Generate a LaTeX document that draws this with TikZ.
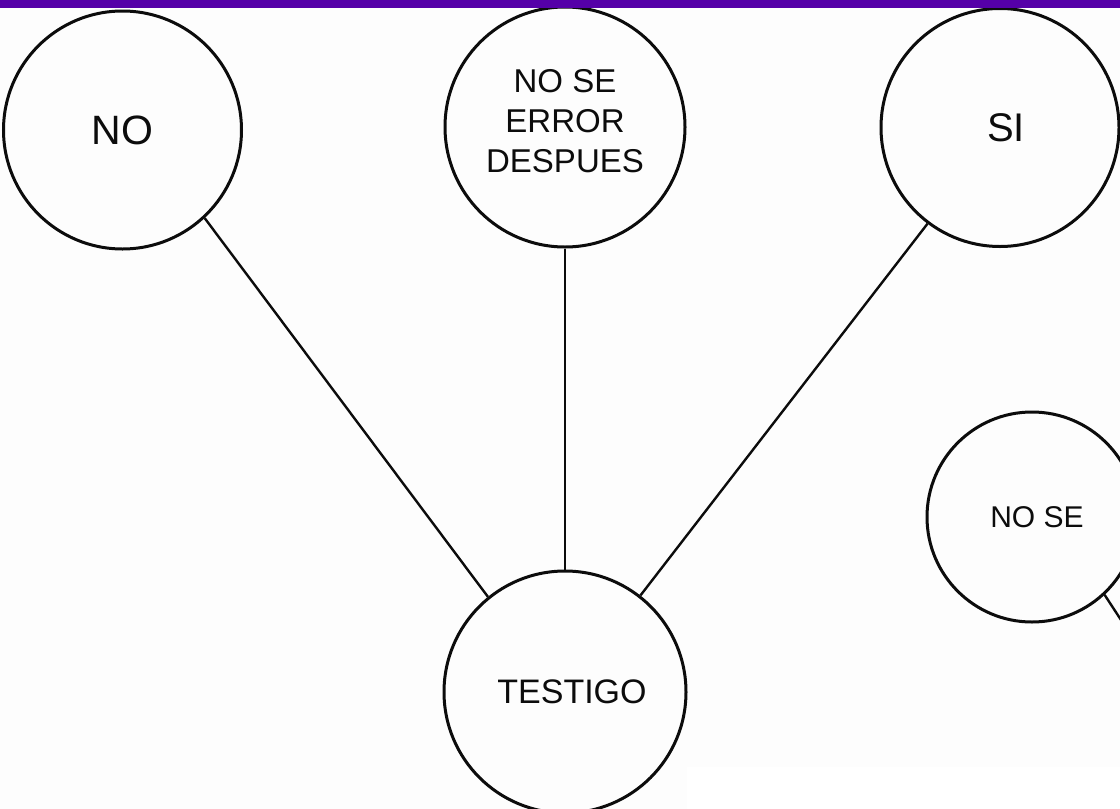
\documentclass[tikz,border=0pt]{standalone}
\usepackage{fontspec}
\setmainfont{Liberation Sans}
\definecolor{barpurple}{RGB}{85,0,168}
\definecolor{bgpaper}{RGB}{253,253,253}
\definecolor{ink}{RGB}{12,12,12}
\begin{document}
\begin{tikzpicture}[x=1pt,y=-1pt,
  circ/.style={circle,draw=ink,line width=3pt,minimum size=#1,inner sep=0pt,align=center,text=ink},
  conn/.style={line width=2.4pt,draw=ink}]
\useasboundingbox (0,0) rectangle (1120,809);
\fill[bgpaper] (0,0) rectangle (1120,809);
\fill[white] (687,767) rectangle (1120,809);
\begin{scope}
\clip (0,0) rectangle (1120,809);
\node[circ=238pt,font=\fontsize{41}{45}\selectfont] (no) at (122.5,130) {NO};
\node[circ=240pt,font=\fontsize{33}{40}\selectfont,text depth=12pt] (err) at (565,127) {NO SE\\ERROR\\DESPUES};
\node[circ=238pt,font=\fontsize{40}{44}\selectfont] (si) at (1000,127.5) {\hspace*{12pt}SI};
\node[circ=242pt,font=\fontsize{34}{38}\selectfont] (testigo) at (565,692) {\hspace*{14pt}TESTIGO};
\node[circ=210pt,font=\fontsize{30}{34}\selectfont] (nose) at (1032,517) {\hspace*{10pt}NO SE};
\coordinate (out) at (1140,649);
\draw[conn] (no.-47) -- (testigo.129);
\draw[conn] (err.south) -- (testigo.north);
\draw[conn] (si.233) -- (testigo.52);
\draw[conn] (nose.-47) -- (out);
\end{scope}
\fill[barpurple] (0,0) rectangle (1120,7.5);
\end{tikzpicture}
\end{document}
